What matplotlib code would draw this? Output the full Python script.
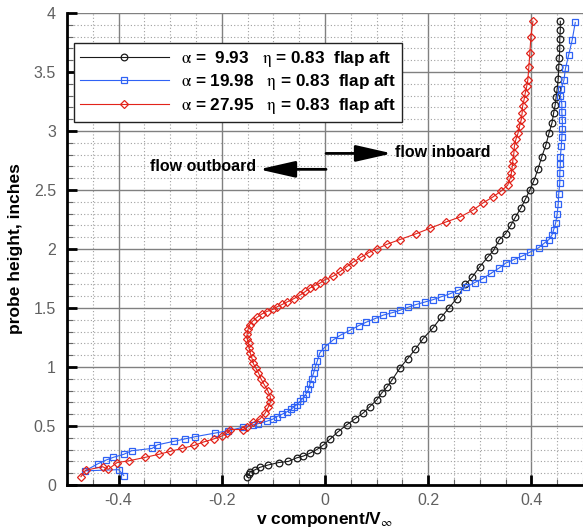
import matplotlib

matplotlib.use("Agg")
import matplotlib.pyplot as plt
from matplotlib.ticker import MultipleLocator

plt.rcParams["font.family"] = ["Liberation Sans", "DejaVu Sans"]
plt.rcParams["mathtext.fontset"] = "stix"

# v/Vinf vs probe height, three angles of attack, eta = 0.83, flap aft
alpha_labels = ["9.93", "19.98", "27.95"]
eta_label = "0.83"
x_ticks = [-0.4, -0.2, 0, 0.2, 0.4]
x_ticklabels = ["-0.4", "-0.2", "0", "0.2", "0.4"]
y_ticks = [0, 0.5, 1, 1.5, 2, 2.5, 3, 3.5, 4]
y_ticklabels = ["0", "0.5", "1", "1.5", "2", "2.5", "3", "3.5", "4"]

v_a10 = [-0.151, -0.148, -0.145, -0.135, -0.126, -0.110, -0.090, -0.071, -0.055,
         -0.042, -0.029, -0.016, -0.003, 0.010, 0.025, 0.042, 0.058, 0.074, 0.087,
         0.100, 0.110, 0.120, 0.130, 0.145, 0.160, 0.175, 0.190, 0.209, 0.225,
         0.240, 0.255, 0.272, 0.285, 0.300, 0.315, 0.327, 0.338, 0.350, 0.360,
         0.369, 0.380, 0.388, 0.397, 0.405, 0.413, 0.420, 0.428, 0.434, 0.440,
         0.443, 0.446, 0.448, 0.450, 0.452, 0.453, 0.454, 0.455, 0.455, 0.456,
         0.456]
h_a10 = [0.07, 0.09, 0.11, 0.13, 0.15, 0.17, 0.19, 0.20, 0.23,
         0.245, 0.27, 0.30, 0.34, 0.39, 0.45, 0.51, 0.56, 0.61, 0.665,
         0.72, 0.78, 0.83, 0.89, 0.99, 1.07, 1.15, 1.24, 1.33, 1.42,
         1.50, 1.58, 1.70, 1.76, 1.85, 1.93, 1.99, 2.08, 2.13, 2.20,
         2.27, 2.35, 2.42, 2.50, 2.58, 2.68, 2.78, 2.88, 2.98, 3.07,
         3.15, 3.22, 3.29, 3.36, 3.44, 3.54, 3.62, 3.70, 3.78, 3.86,
         3.93]

v_a20 = [-0.390, -0.400, -0.465, -0.440, -0.425, -0.410, -0.390, -0.375, -0.335,
         -0.325, -0.293, -0.272, -0.251, -0.213, -0.188, -0.158, -0.140, -0.129,
         -0.113, -0.100, -0.093, -0.083, -0.074, -0.066, -0.061, -0.055, -0.048,
         -0.042, -0.037, -0.032, -0.029, -0.026, -0.022, -0.019, -0.015, -0.010,
         0.000, 0.016, 0.030, 0.048, 0.065, 0.080, 0.097, 0.113, 0.130, 0.145,
         0.160, 0.177, 0.193, 0.209, 0.225, 0.242, 0.258, 0.274, 0.290, 0.306,
         0.322, 0.338, 0.350, 0.366, 0.382, 0.398, 0.414, 0.425, 0.434, 0.440,
         0.443, 0.447, 0.450, 0.452, 0.453, 0.455, 0.455, 0.456, 0.456, 0.458,
         0.459, 0.460, 0.460, 0.459, 0.459, 0.456, 0.458, 0.463, 0.466, 0.472,
         0.479, 0.485]
h_a20 = [0.08, 0.13, 0.12, 0.18, 0.21, 0.235, 0.26, 0.29, 0.31,
         0.34, 0.37, 0.39, 0.41, 0.44, 0.46, 0.49, 0.51, 0.52,
         0.54, 0.56, 0.58, 0.60, 0.62, 0.64, 0.66, 0.68, 0.71,
         0.74, 0.77, 0.81, 0.86, 0.90, 0.95, 1.00, 1.05, 1.12,
         1.17, 1.23, 1.27, 1.31, 1.35, 1.38, 1.41, 1.44, 1.46, 1.48,
         1.505, 1.53, 1.55, 1.57, 1.595, 1.62, 1.65, 1.68, 1.715, 1.75,
         1.795, 1.84, 1.88, 1.91, 1.94, 1.975, 2.01, 2.05, 2.08, 2.12,
         2.16, 2.22, 2.30, 2.38, 2.47, 2.56, 2.64, 2.72, 2.78, 2.87,
         2.95, 3.02, 3.09, 3.16, 3.23, 3.30, 3.36, 3.43, 3.53, 3.64,
         3.77, 3.92]

v_a28 = [-0.473, -0.464, -0.431, -0.420, -0.403, -0.380, -0.348, -0.322, -0.300,
         -0.277, -0.254, -0.235, -0.216, -0.200, -0.190, -0.184, -0.158, -0.151,
         -0.139, -0.126, -0.116, -0.110, -0.106, -0.106, -0.111, -0.119, -0.124,
         -0.129, -0.134, -0.139, -0.142, -0.145, -0.147, -0.148, -0.151, -0.151,
         -0.149, -0.146, -0.140, -0.132, -0.122, -0.113, -0.100, -0.093, -0.083,
         -0.074, -0.060, -0.048, -0.038, -0.029, -0.020, -0.010, 0.000, 0.016,
         0.030, 0.042, 0.055, 0.070, 0.085, 0.100, 0.120, 0.145, 0.177, 0.203,
         0.235, 0.261, 0.287, 0.306, 0.325, 0.341, 0.354, 0.359, 0.361, 0.363,
         0.364, 0.366, 0.367, 0.370, 0.374, 0.377, 0.380, 0.382, 0.383, 0.386,
         0.388, 0.391, 0.393, 0.395, 0.397, 0.399, 0.403]
h_a28 = [0.07, 0.125, 0.155, 0.133, 0.19, 0.205, 0.235, 0.26, 0.285,
         0.31, 0.335, 0.365, 0.39, 0.415, 0.44, 0.47, 0.47, 0.49,
         0.53, 0.56, 0.61, 0.66, 0.70, 0.75, 0.80, 0.86, 0.90,
         0.95, 0.99, 1.03, 1.08, 1.12, 1.16, 1.20, 1.24, 1.28,
         1.32, 1.36, 1.39, 1.42, 1.45, 1.47, 1.49, 1.51, 1.53,
         1.55, 1.58, 1.61, 1.64, 1.67, 1.69, 1.71, 1.74, 1.77,
         1.81, 1.85, 1.89, 1.93, 1.97, 2.00, 2.04, 2.08, 2.13, 2.175,
         2.23, 2.27, 2.33, 2.39, 2.44, 2.49, 2.54, 2.60, 2.64, 2.70,
         2.75, 2.81, 2.87, 2.93, 2.98, 3.04, 3.09, 3.15, 3.21, 3.27,
         3.32, 3.38, 3.43, 3.54, 3.66, 3.80, 3.93]

series = [
    (v_a10, h_a10, "#1a1a1a", "o", 4.8),
    (v_a20, h_a20, "#2f62f5", "s", 4.3),
    (v_a28, h_a28, "#e2231a", "D", 3.9),
]

fig = plt.figure(figsize=(5.83, 5.31), dpi=100)
ax = fig.add_axes([67 / 583, 46 / 531, 516 / 583, 472 / 531])

for (v, h, color, mk, ms), a in zip(series, alpha_labels):
    lab = rf"$\mathrm{{\alpha}}$ = {a:>5}   $\mathrm{{\eta}}$ = {eta_label}  flap aft"
    ax.plot(v, h, color=color, lw=0.8, marker=mk, ms=ms, mfc="none",
            mec=color, mew=0.9, label=lab)

ax.set_xlim(-0.5, 0.5)
ax.set_ylim(0, 4)
ax.set_xticks(x_ticks)
ax.set_xticklabels(x_ticklabels)
ax.set_yticks(y_ticks)
ax.set_yticklabels(y_ticklabels)
ax.xaxis.set_minor_locator(MultipleLocator(0.05))
ax.yaxis.set_minor_locator(MultipleLocator(0.1))

ax.grid(which="major", color="#808080", lw=1.0)
ax.grid(which="minor", color="#a0a0a0", lw=0.8, ls=(0, (1, 2)))
ax.set_axisbelow(True)

ax.tick_params(which="major", direction="in", length=7, width=2, color="black",
               labelsize=11.5, labelcolor="#606060")
ax.tick_params(axis="y", which="major", pad=8)
ax.tick_params(axis="x", which="major", pad=6)
ax.tick_params(which="minor", direction="in", length=4, width=0.8, color="#666666")
for s in ("top", "right"):
    ax.spines[s].set_visible(False)
for s in ("left", "bottom"):
    ax.spines[s].set_linewidth(2)

ax.set_xlabel(r"v component/V$_{\infty}$", fontsize=12.5, fontweight="bold", labelpad=1)
ax.set_ylabel("probe height, inches", fontsize=12.5, fontweight="bold", labelpad=8)

leg = ax.legend(loc="upper left", bbox_to_anchor=(0.0136, 0.937), numpoints=1,
                handlelength=5.2, handletextpad=0.7, labelspacing=0.2,
                borderpad=0.35, borderaxespad=0, fancybox=False,
                prop={"weight": "bold", "size": 12.3})
leg.get_frame().set_edgecolor("#222222")
leg.get_frame().set_linewidth(1.0)
leg.get_frame().set_alpha(1)

# flow direction arrows
head = dict(arrowstyle="-|>,head_length=1.1,head_width=0.25", color="black",
            lw=2, mutation_scale=20, shrinkA=0, shrinkB=0)
ax.annotate("", xy=(0.13, 2.81), xytext=(0.002, 2.81), arrowprops=head)
ax.annotate("", xy=(-0.128, 2.675), xytext=(0.002, 2.675), arrowprops=head)
ax.text(0.136, 2.82, "flow inboard", fontsize=11.5, fontweight="bold",
        ha="left", va="center")
ax.text(-0.133, 2.70, "flow outboard", fontsize=11.5, fontweight="bold",
        ha="right", va="center")

fig.savefig("out.png", dpi=100)
